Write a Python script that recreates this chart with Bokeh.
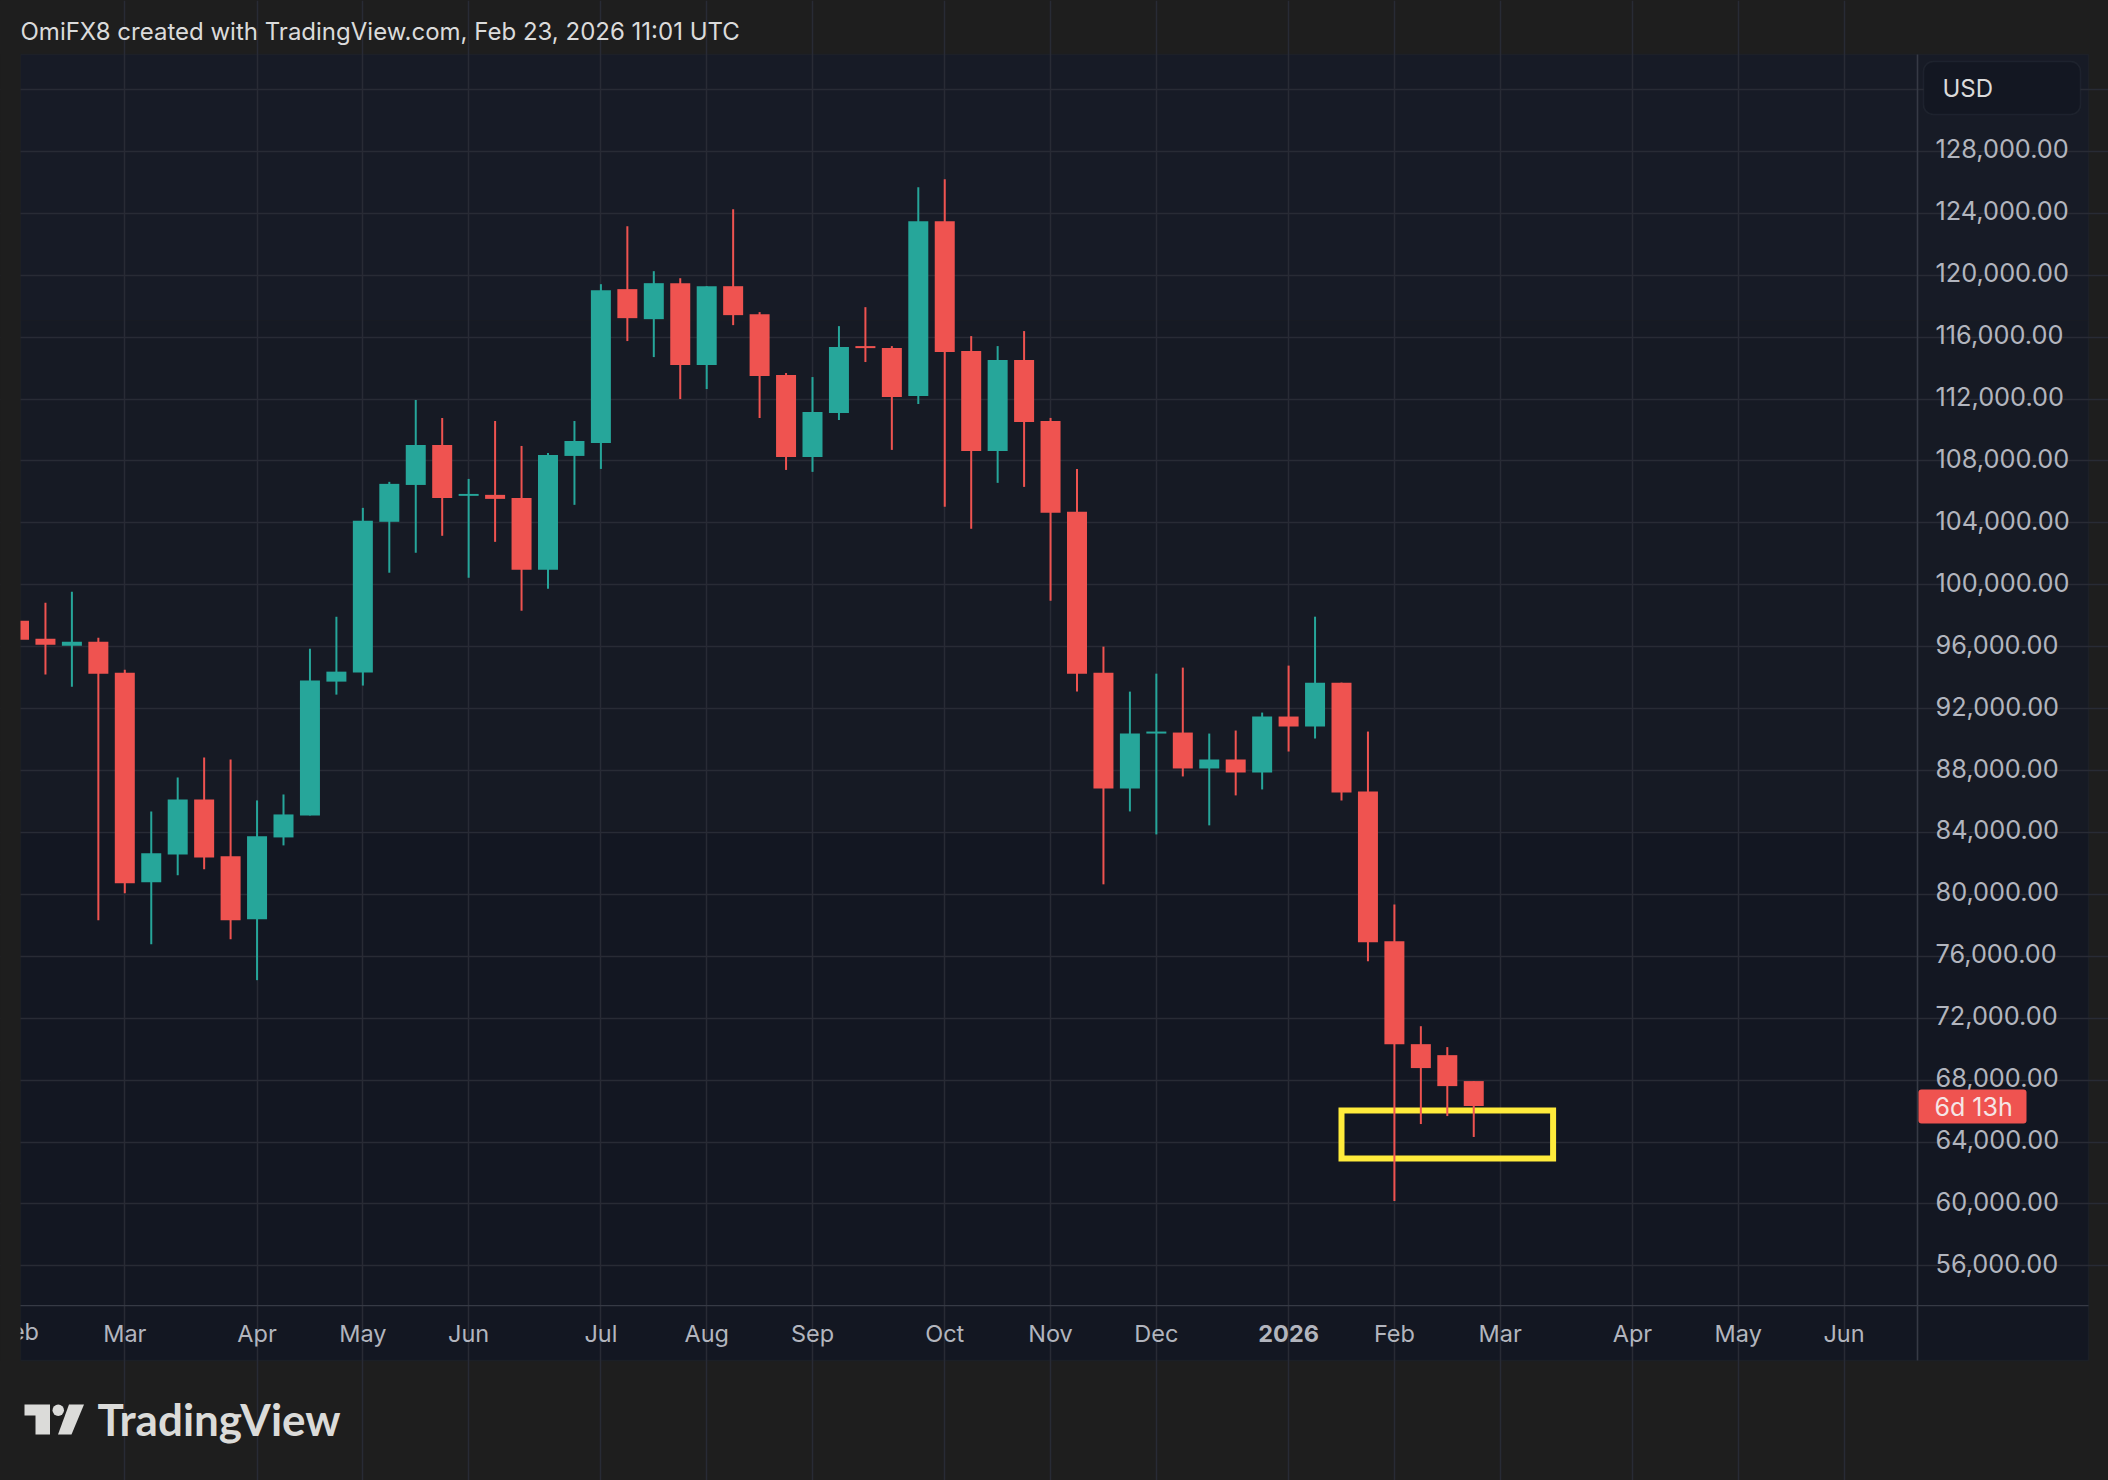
from bokeh.embed import file_html
from bokeh.resources import INLINE
from bokeh.plotting import figure
from bokeh.models import (BoxAnnotation, ColumnDataSource, FixedTicker, Grid,
                          Label, LinearAxis, PolyAnnotation, Range1d)

opens = [97680, 96520, 96065, 96320, 94320, 80780, 82585, 86130, 82460, 78390, 83680, 85100, 93745, 94330,
         104070, 106450, 109030, 105745, 105810, 105615, 100970, 108325, 109165, 119100, 117160, 119485,
         114195, 119290, 117485, 113550, 108260, 111100, 115420, 115290, 112195, 123485, 115100, 108650,
         114520, 110585, 104715, 94325, 86845, 90390, 90455, 88135, 88715, 87875, 91490, 90845, 93680,
         86645, 76970, 70325, 69615, 67940]
highs = [97900, 98840, 99550, 96580, 94520, 85360, 87550, 88840, 88710, 86070, 86455, 95870, 97935, 104970,
         106650, 111940, 110775, 106840, 110580, 108970, 108515, 110580, 119420, 123160, 120260, 119805,
         119290, 124255, 117615, 113680, 113420, 116710, 117935, 115420, 125675, 126195, 116065, 115420,
         116390, 110780, 107485, 96005, 93100, 94260, 94650, 90390, 90585, 91745, 94780, 97940, 93680,
         90520, 79355, 71485, 70135, 67940]
lows = [96200, 94200, 93420, 78330, 80070, 76780, 81230, 81620, 77100, 74460, 83165, 85100, 92905, 93490,
        100780, 102070, 103165, 100455, 102775, 98325, 99745, 105165, 107485, 115745, 114710, 112000,
        112645, 116775, 110775, 107420, 107295, 110645, 114390, 108715, 111680, 105035, 103620, 106585,
        106325, 98970, 93100, 80650, 85360, 83875, 87620, 84460, 86395, 86780, 89230, 90070, 86065,
        75680, 60200, 65165, 65680, 64330]
closes = [96450, 96130, 96320, 94260, 80715, 82650, 86130, 82390, 78330, 83750, 85165, 93810, 94390, 104130,
          106520, 109030, 105615, 105870, 105550, 100970, 108390, 109290, 119030, 117225, 119485, 114195,
          119290, 117420, 113485, 108260, 111165, 115355, 115290, 112130, 123485, 115035, 108650, 114520,
          110520, 104650, 94260, 86845, 90390, 90520, 88135, 88715, 87875, 91490, 90845, 93680, 86585,
          76905, 70325, 68780, 67615, 66330]

month_weeks = [0, 4, 9, 13, 17, 22, 26, 30, 35, 39, 43, 48, 52, 56, 61, 65, 69]
month_names = ["eb", "Mar", "Apr", "May", "Jun", "Jul", "Aug", "Sep", "Oct", "Nov", "Dec", "2026",
               "Feb", "Mar", "Apr", "May", "Jun"]
price_ticks = list(range(56000, 128001, 4000))
grid_prices = list(range(56000, 132001, 4000))
highlight_weeks = [50, 58]
highlight_prices = [62940, 66040]

BORDER = "#1e1e1e"
GRID = "#282b35"
RED = "#ef5350"
GREEN = "#26a69a"
TEXT = "#b2b5be"
LIGHT = "#dbdbdb"
FONT = "Inter"
W, H = 2108, 1480

# one full-page frame: real pixel -> data mapping
X_PER_PX = 1 / 26.45
Y_PER_PX = 64.6
x0, x1 = (0 - 18.5) * X_PER_PX, (W - 18.5) * X_PER_PX
y1, y0 = 120000 + 274.7 * Y_PER_PX, 120000 - (H - 274.7) * Y_PER_PX
plot_right = (1917 - 18.5) * X_PER_PX
plot_left = (20 - 18.5) * X_PER_PX
plot_bottom = 120000 - (1305 - 274.7) * Y_PER_PX
plot_top = 120000 + (274.7 - 54) * Y_PER_PX
label_shift = 2.5 * Y_PER_PX

p = figure(width=W, height=H, output_backend="svg", toolbar_location=None,
           x_range=Range1d(x0, x1), y_range=Range1d(y0, y1),
           x_axis_location=None, y_axis_location=None,
           min_border=0, background_fill_color=BORDER, border_fill_color=BORDER, outline_line_color=None)
p.extra_y_ranges = {"price_labels": Range1d(y0 - label_shift, y1 - label_shift)}
for g in list(p.grid):
    g.visible = False


def sy(real):
    return H - real


def box(l, r, t, b, fill, line=None, level="annotation", radius=0, lw=1):
    a = BoxAnnotation(left=l, right=r, top=sy(t), bottom=sy(b),
                      left_units="screen", right_units="screen", top_units="screen", bottom_units="screen",
                      fill_color=fill, fill_alpha=1, line_color=line, line_width=lw, level=level,
                      border_radius=radius)
    p.add_layout(a)
    return a


def text(x, y, s, size, color=TEXT, align="left", font=FONT, style="normal", x_data=False):
    p.add_layout(Label(x=x, y=sy(y), x_units="data" if x_data else "screen",
                       y_units="screen", text=s, text_color=color, text_font=font, text_font_size=size,
                       text_font_style=style, text_align=align, text_baseline="middle"))


# chart panel, price scale and time scale (slightly lighter towards the top)
box(20, 2088, 54, 320, "#171b26", level="image")
box(20, 2088, 320, 830, "#161a24", level="image")
box(20, 2088, 830, 1360, "#131722", level="image")
box(20, 2088, 54, 1360, None, "#262a35", level="image", lw=1.5)

# grid
p.add_layout(Grid(dimension=0, ticker=FixedTicker(ticks=[w for w in month_weeks if w > 0]),
                  grid_line_color=GRID, grid_line_width=1.5, bounds=(plot_bottom, plot_top)))
p.add_layout(Grid(dimension=1, ticker=FixedTicker(ticks=grid_prices),
                  grid_line_color=GRID, grid_line_width=1.5, bounds=(plot_left, plot_right)))

# price axis
axis = LinearAxis(ticker=FixedTicker(ticks=price_ticks), fixed_location=plot_right,
                  y_range_name="price_labels",
                  major_label_overrides={v: f"{v:,.2f}" for v in price_ticks},
                  axis_line_color=None, major_tick_line_color=None, minor_tick_line_color=None,
                  major_tick_in=0, major_tick_out=0, major_label_standoff=18,
                  major_label_text_color=TEXT, major_label_text_font=FONT,
                  major_label_text_font_size="25.3px")
p.add_layout(axis, "right")

# time axis
plain = [(w, n) for w, n in zip(month_weeks, month_names) if n not in ("eb", "2026")]
t_axis = LinearAxis(ticker=FixedTicker(ticks=[w for w, _ in plain]), fixed_location=plot_bottom,
                    major_label_overrides={w: n for w, n in plain},
                    axis_line_color=None, major_tick_line_color=None, minor_tick_line_color=None,
                    major_tick_in=0, major_tick_out=0, major_label_standoff=13,
                    major_label_text_color=TEXT, major_label_text_font=FONT,
                    major_label_text_font_size="23.5px")
p.add_layout(t_axis, "below")

# highlight box under the candles
p.quad(left=[highlight_weeks[0]], right=[highlight_weeks[1]],
       bottom=[highlight_prices[0]], top=[highlight_prices[1]],
       fill_color=None, line_color="#ffeb3b", line_width=6, line_join="miter")

# candles
weeks = list(range(len(opens)))
colors = [GREEN if c >= o else RED for o, c in zip(opens, closes)]
src = ColumnDataSource(dict(x=weeks, o=opens, h=highs, l=lows, c=closes, color=colors,
                            top=[max(a, b) for a, b in zip(opens, closes)],
                            bot=[min(a, b) for a, b in zip(opens, closes)]))
p.segment("x", "h", "x", "l", color="color", line_width=2, source=src)
p.vbar(x="x", width=0.756, top="top", bottom="bot", fill_color="color", line_color=None, source=src)

# time labels that the axis cannot style
for w, name in zip(month_weeks, month_names):
    if name == "eb":
        text(38.5, 1331, name, "23.5px", align="right")
    elif name == "2026":
        text(w, 1333, name, "23.5px", style="bold", align="center", x_data=True)

# the chart's left edge cuts the first candle and the first month label
box(0, 20, 54, 1360, BORDER)

# scale separators
box(1916.2, 1917.8, 54, 1360, "#363a45")
box(20, 2088, 1304.4, 1305.8, "#363a45")

# currency button
box(1923, 2080, 61, 114, "#131722", "#363a45", radius=10, lw=1.5)
text(1942, 87.5, "USD", "24px", LIGHT)

# countdown
box(1918, 2026, 1089, 1123, RED, radius=3)
text(1934, 1106, "6d 13h", "25px", "#f5e6e6")

# header
text(20, 31, "OmiFX8 created with TradingView.com, Feb 23, 2026 11:01 UTC", "24px", LIGHT)

# footer logo
logo = "#dbdbd9"
for xs, ys in [([24, 49.5, 49.5, 35, 35, 24], [1404, 1404, 1434, 1434, 1415, 1415]),
               ([68.5, 83.5, 71, 57.5], [1404, 1404, 1434, 1434])]:
    p.add_layout(PolyAnnotation(xs=xs, ys=[sy(v) for v in ys], xs_units="screen",
                                ys_units="screen", fill_color=logo, fill_alpha=1, line_color=None,
                                level="annotation"))
box(52, 63.5, 1404, 1415.5, logo, radius=6)
text(97, 1418, "TradingView", "44px", logo, font="Lato", style="bold")

html = file_html(p, INLINE)
html = html.replace("<head>", f"<head><style>html,body{{background:{BORDER}}}</style>", 1)
open("out.html", "w").write(html)
